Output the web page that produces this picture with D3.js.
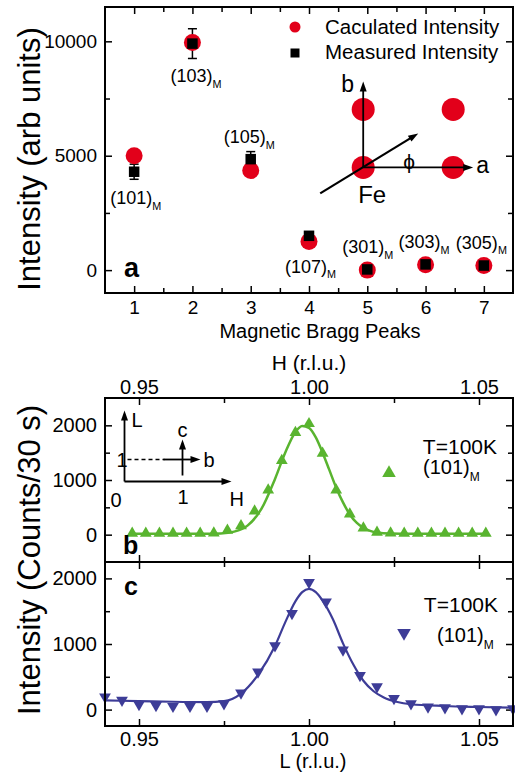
<!DOCTYPE html>
<html>
<head>
<meta charset="utf-8">
<script src="https://cdn.jsdelivr.net/npm/d3@7"></script>
<style>
    body {margin: 0; background: #fff;}
    svg {font-family: "Liberation Sans", Arial, sans-serif;}
</style>
</head>
<body>
<div id="chart"></div>
<script>
// ---- panel a : magnetic Bragg peaks
const peaks = [1, 2, 3, 4, 5, 6, 7]
const peakLabels = ["101", "103", "105", "107", "301", "303", "305"]
const calculated = [5000, 9950, 4350, 1250, 0, 230, 200]
const measured = [4300, 9900, 4850, 1500, 30, 250, 200]
const measuredErr = [330, 650, 330, 120, 60, 90, 90]

// ---- panel b : H scan
const scanH = [0.948, 0.952, 0.956, 0.960, 0.964, 0.968, 0.972, 0.976, 0.980, 0.984, 0.988, 0.992, 0.996, 1.000,
    1.004, 1.008, 1.012, 1.016, 1.020, 1.024, 1.028, 1.032, 1.036, 1.040, 1.044, 1.048, 1.052]
const countsH = [25, 25, 25, 25, 25, 25, 30, 80, 160, 430, 817, 1354, 1866, 2030,
    1488, 817, 378, 122, 43, 30, 25, 25, 25, 25, 25, 25, 25]
const fitHx = [0.948, 0.960, 0.970, 0.974, 0.978, 0.982, 0.986, 0.990, 0.993, 0.996, 0.998, 1.000, 1.002, 1.004,
    1.006, 1.008, 1.010, 1.012, 1.014, 1.016, 1.018, 1.020, 1.024, 1.030, 1.052]
const fitHy = [15, 15, 18, 22, 55, 170, 470, 1020, 1500, 1880, 1990, 1955, 1780, 1500,
    1180, 860, 590, 370, 220, 125, 70, 40, 20, 15, 15]

// ---- panel c : L scan
const scanL = [0.940, 0.945, 0.950, 0.955, 0.960, 0.965, 0.970, 0.975, 0.980, 0.985, 0.990, 0.995, 1.000,
    1.005, 1.010, 1.015, 1.020, 1.025, 1.030, 1.035, 1.040, 1.045, 1.050, 1.055, 1.060]
const countsL = [195, 145, 80, 65, 50, 50, 50, 90, 255, 575, 975, 1465, 1940,
    1640, 910, 520, 350, 170, 90, 40, 30, 15, 15, 0, 15]
const fitLx = [0.940, 0.950, 0.960, 0.970, 0.975, 0.980, 0.985, 0.990, 0.993, 0.996, 0.998, 1.000, 1.002,
    1.004, 1.007, 1.010, 1.013, 1.016, 1.019, 1.022, 1.026, 1.030, 1.040, 1.050, 1.060]
const fitLy = [140, 130, 120, 115, 130, 245, 530, 970, 1330, 1650, 1790, 1840, 1790,
    1660, 1380, 1010, 690, 440, 280, 185, 115, 82, 55, 40, 28]

const red = "#e2001a"
const green = "#59b42f"
const blue = "#3d3c97"

const svg = d3.select("#chart").append("svg")
    .attr("width", 515)
    .attr("height", 775)

const frame = {left: 105, right: 513}

function drawTicks(g, axis, y0, major, minor, fmt, labelled, size, pad) {
    g.append("g")
        .attr("transform", y0)
        .call(axis.tickValues(major).tickSize(-7).tickPadding(pad).tickFormat(labelled ? fmt : ""))
        .call(s => s.select(".domain").remove())
        .call(s => s.selectAll("line").attr("stroke-width", 1.5))
        .call(s => s.selectAll("text").attr("font-size", size).attr("fill", "#000").attr("font-family", null))
    g.append("g")
        .attr("transform", y0)
        .call(axis.tickValues(minor).tickSize(-5).tickFormat(""))
        .call(s => s.select(".domain").remove())
        .call(s => s.selectAll("line").attr("stroke-width", 1.5))
}

function drawFrame(top, bottom) {
    svg.append("rect")
        .attr("x", frame.left).attr("y", top)
        .attr("width", frame.right - frame.left).attr("height", bottom - top)
        .attr("fill", "none").attr("stroke", "#000").attr("stroke-width", 2)
}

function arrow(g, x1, y1, x2, y2, w) {
    const ang = Math.atan2(y2 - y1, x2 - x1)
    const len = 10, half = 3.5
    g.append("line")
        .attr("x1", x1).attr("y1", y1)
        .attr("x2", x2 - Math.cos(ang) * len * 0.8).attr("y2", y2 - Math.sin(ang) * len * 0.8)
        .attr("stroke", "#000").attr("stroke-width", w || 1.8)
    const bx = x2 - Math.cos(ang) * len, by = y2 - Math.sin(ang) * len
    g.append("path")
        .attr("d", "M" + x2 + "," + y2 +
            "L" + (bx - Math.sin(ang) * half) + "," + (by + Math.cos(ang) * half) +
            "L" + (bx + Math.sin(ang) * half) + "," + (by - Math.cos(ang) * half) + "Z")
        .attr("fill", "#000")
}

function subLabel(g, x, y, main, sub, size, anchor) {
    const t = g.append("text")
        .attr("x", x).attr("y", y)
        .attr("font-size", size)
        .attr("text-anchor", anchor || "start")
    t.append("tspan").text("(" + main + ")")
    t.append("tspan").attr("font-size", size * 0.6).attr("dy", size * 0.33).text(sub)
    return t
}

// ================= panel a
const aTop = 7, aBottom = 293
const xA = d3.scaleLinear().domain([0.5, 7.5]).range([frame.left, frame.right])
const yA = d3.scaleLinear().domain([-1000, 11500]).range([aBottom, aTop])
const gA = svg.append("g")

drawTicks(gA, d3.axisLeft(yA), "translate(" + frame.left + ",0)", [0, 5000, 10000], [2500, 7500], d3.format("d"), true, 19, 8)
drawTicks(gA, d3.axisRight(yA), "translate(" + frame.right + ",0)", [0, 5000, 10000], [2500, 7500], null, false, 19, 8)
drawTicks(gA, d3.axisBottom(xA), "translate(0," + aBottom + ")", peaks, [1.5, 2.5, 3.5, 4.5, 5.5, 6.5], d3.format("d"), true, 19, 8)
drawTicks(gA, d3.axisTop(xA), "translate(0," + aTop + ")", peaks, [1.5, 2.5, 3.5, 4.5, 5.5, 6.5], null, false, 19, 8)
drawFrame(aTop, aBottom)

// error bars
peaks.forEach((p, i) => {
    const x = xA(p)
    const y1 = yA(measured[i] - measuredErr[i]), y2 = yA(measured[i] + measuredErr[i])
    gA.append("line").attr("x1", x).attr("x2", x).attr("y1", y1).attr("y2", y2)
        .attr("stroke", "#000").attr("stroke-width", 1.5)
    gA.append("line").attr("x1", x - 4.5).attr("x2", x + 4.5).attr("y1", y1).attr("y2", y1)
        .attr("stroke", "#000").attr("stroke-width", 1.5)
    gA.append("line").attr("x1", x - 4.5).attr("x2", x + 4.5).attr("y1", y2).attr("y2", y2)
        .attr("stroke", "#000").attr("stroke-width", 1.5)
})

gA.selectAll(".calc")
    .data(peaks)
    .join("circle")
    .attr("cx", d => xA(d))
    .attr("cy", (d, i) => yA(calculated[i]))
    .attr("r", 8.5)
    .attr("fill", red)

gA.selectAll(".meas")
    .data(peaks)
    .join("rect")
    .attr("x", d => xA(d) - 5.25)
    .attr("y", (d, i) => yA(measured[i]) - 5.25)
    .attr("width", 10.5)
    .attr("height", 10.5)
    .attr("fill", "#000")

// peak labels, offsets from the calculated point
const labelOffsets = [[-24, 48], [-22, 40], [-27, -28], [-24, 31], [-25, -17], [-27, -17], [-28, -17]]
peaks.forEach((p, i) => {
    subLabel(gA, xA(p) + labelOffsets[i][0], yA(calculated[i]) + labelOffsets[i][1], peakLabels[i], "M", 18)
})

// legend
gA.append("circle").attr("cx", 295).attr("cy", 27).attr("r", 5.5).attr("fill", red)
gA.append("rect").attr("x", 290.5).attr("y", 48.5).attr("width", 9).attr("height", 9).attr("fill", "#000")
gA.append("text").attr("x", 325).attr("y", 34).attr("font-size", 20.5).text("Caculated Intensity")
gA.append("text").attr("x", 325).attr("y", 59).attr("font-size", 20.5).text("Measured Intensity")

gA.append("text").attr("x", 124).attr("y", 277).attr("font-size", 27).attr("font-weight", "bold").text("a")

// lattice sketch: Fe origin placed in data space
const ox = xA(4.93), oy = yA(4490)
const cell = [[0, 0], [90, 0], [0, -58], [90, -58]]
cell.forEach(c => {
    gA.append("circle").attr("cx", ox + c[0]).attr("cy", oy + c[1]).attr("r", 11.5).attr("fill", red)
})
arrow(gA, ox, oy, ox, oy - 86)
arrow(gA, ox, oy, ox + 110, oy)
arrow(gA, ox - 43, oy + 26, ox + 55, oy - 34, 2.2)
gA.append("text").attr("x", ox - 22).attr("y", oy - 75).attr("font-size", 23).text("b")
gA.append("text").attr("x", ox + 113).attr("y", oy + 6).attr("font-size", 23).text("a")
gA.append("text").attr("x", ox + 40).attr("y", oy + 2).attr("font-size", 21).text("\u03d5")
gA.append("text").attr("x", ox - 5).attr("y", oy + 36).attr("font-size", 24).text("Fe")

gA.append("text")
    .attr("transform", "translate(40," + 159 + ") rotate(-90)")
    .attr("text-anchor", "middle")
    .attr("font-size", 31)
    .text("Intensity (arb units)")
gA.append("text")
    .attr("x", 320).attr("y", 338)
    .attr("text-anchor", "middle")
    .attr("font-size", 20)
    .text("Magnetic Bragg Peaks")

// ================= panel b
const bTop = 398, bBottom = 562
const xB = d3.scaleLinear().domain([0.94, 1.06]).range([frame.left, frame.right])
const yB = d3.scaleLinear().domain([-500, 2500]).range([bBottom, bTop])
const gB = svg.append("g")
const qMajor = [0.95, 1.00, 1.05], qMinor = [0.975, 1.025]

drawTicks(gB, d3.axisLeft(yB), "translate(" + frame.left + ",0)", [0, 1000, 2000], [500, 1500], d3.format("d"), true, 20, 8)
drawTicks(gB, d3.axisRight(yB), "translate(" + frame.right + ",0)", [0, 1000, 2000], [500, 1500], null, false, 20, 8)
drawTicks(gB, d3.axisTop(xB), "translate(0," + bTop + ")", qMajor, qMinor, d3.format(".2f"), true, 20, 4)
drawTicks(gB, d3.axisBottom(xB), "translate(0," + bBottom + ")", qMajor, qMinor, null, false, 20, 5)

gB.append("path")
    .attr("d", d3.line().x(d => xB(d)).y((d, i) => yB(fitHy[i])).curve(d3.curveMonotoneX)(fitHx))
    .attr("fill", "none").attr("stroke", green).attr("stroke-width", 2.5)

gB.selectAll(".ptH")
    .data(scanH)
    .join("path")
    .attr("transform", (d, i) => "translate(" + xB(d) + "," + yB(countsH[i]) + ")")
    .attr("d", d3.symbol(d3.symbolTriangle, 60))
    .attr("fill", green)

gB.append("path")
    .attr("transform", "translate(389,473)")
    .attr("d", d3.symbol(d3.symbolTriangle, 80))
    .attr("fill", green)
gB.append("text").attr("x", 497).attr("y", 454).attr("text-anchor", "end").attr("font-size", 21).text("T=100K")
subLabel(gB, 423, 474, "101", "M", 20)

gB.append("text").attr("x", 123).attr("y", 554).attr("font-size", 25).attr("font-weight", "bold").text("b")

// reciprocal space sketch
const gI = gB.append("g")
const ix = frame.left + 19.5, iy = 481.5
arrow(gI, ix, iy, ix, iy - 71)
arrow(gI, ix, iy, ix + 107, iy)
gI.append("line").attr("x1", ix + 3).attr("x2", ix + 40).attr("y1", iy - 22).attr("y2", iy - 22)
    .attr("stroke", "#000").attr("stroke-width", 1.3).attr("stroke-dasharray", "4,3")
arrow(gI, ix + 39, iy - 22, ix + 76, iy - 22)
arrow(gI, ix + 58, iy - 6, ix + 58, iy - 42)
gI.append("text").attr("x", ix + 7).attr("y", iy - 55).attr("font-size", 20).text("L")
gI.append("text").attr("x", ix + 105).attr("y", iy + 24).attr("font-size", 20).text("H")
gI.append("text").attr("x", ix - 14).attr("y", iy + 25).attr("font-size", 20).text("0")
gI.append("text").attr("x", ix + 53).attr("y", iy + 22).attr("font-size", 20).text("1")
gI.append("text").attr("x", ix - 8).attr("y", iy - 15).attr("font-size", 20).text("1")
gI.append("text").attr("x", ix + 79).attr("y", iy - 15).attr("font-size", 20).text("b")
gI.append("text").attr("x", ix + 53).attr("y", iy - 45).attr("font-size", 20).text("c")

gB.append("text")
    .attr("x", 309).attr("y", 370)
    .attr("text-anchor", "middle")
    .attr("font-size", 21)
    .text("H (r.l.u.)")

// ================= panel c
const cTop = 562, cBottom = 726
const yC = d3.scaleLinear().domain([-250, 2250]).range([cBottom, cTop])
const gC = svg.append("g")

drawTicks(gC, d3.axisLeft(yC), "translate(" + frame.left + ",0)", [0, 1000, 2000], [500, 1500], d3.format("d"), true, 20, 8)
drawTicks(gC, d3.axisRight(yC), "translate(" + frame.right + ",0)", [0, 1000, 2000], [500, 1500], null, false, 20, 8)
drawTicks(gC, d3.axisBottom(xB), "translate(0," + cBottom + ")", qMajor, qMinor, d3.format(".2f"), true, 20, 6)
drawTicks(gC, d3.axisTop(xB), "translate(0," + cTop + ")", qMajor, qMinor, null, false, 20, 8)
drawFrame(bTop, bBottom)
drawFrame(cTop, cBottom)

gC.append("path")
    .attr("d", d3.line().x(d => xB(d)).y((d, i) => yC(fitLy[i])).curve(d3.curveMonotoneX)(fitLx))
    .attr("fill", "none").attr("stroke", blue).attr("stroke-width", 2.2)

gC.selectAll(".ptL")
    .data(scanL)
    .join("path")
    .attr("transform", (d, i) => "translate(" + xB(d) + "," + yC(countsL[i]) + ") rotate(180)")
    .attr("d", d3.symbol(d3.symbolTriangle, 60))
    .attr("fill", blue)

gC.append("path")
    .attr("transform", "translate(404,633) rotate(180)")
    .attr("d", d3.symbol(d3.symbolTriangle, 80))
    .attr("fill", blue)
gC.append("text").attr("x", 498).attr("y", 612).attr("text-anchor", "end").attr("font-size", 21).text("T=100K")
subLabel(gC, 437, 642, "101", "M", 20)

gC.append("text").attr("x", 124).attr("y", 595).attr("font-size", 25).attr("font-weight", "bold").text("c")

gC.append("text")
    .attr("x", 313).attr("y", 768)
    .attr("text-anchor", "middle")
    .attr("font-size", 20)
    .text("L (r.l.u.)")

svg.append("text")
    .attr("transform", "translate(40," + 560 + ") rotate(-90)")
    .attr("text-anchor", "middle")
    .attr("font-size", 31)
    .text("Intensity (Counts/30 s)")
</script>
</body>
</html>
